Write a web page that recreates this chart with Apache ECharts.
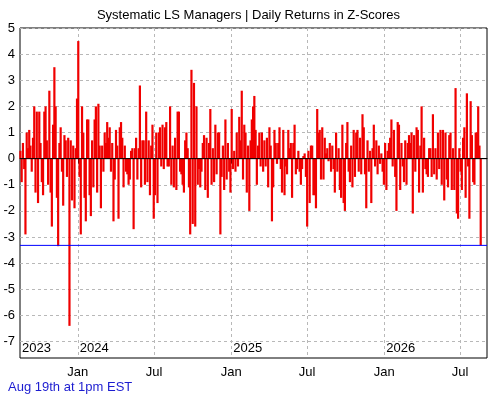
<!DOCTYPE html>
<html>
<head>
<meta charset="utf-8">
<script src="https://cdn.jsdelivr.net/npm/echarts@6.0.0/dist/echarts.min.js"></script>
<style>
  html, body { margin: 0; padding: 0; background: #fff; }
  #chart { width: 497px; height: 400px; }
</style>
</head>
<body>
<div id="chart"></div>
<script>
// one reading every 3 calendar days, starting here
const startDate = '2023-08-17';
const stepDays = 3;

// z-scores (left to right)
const zScores = [
  0.3, -0.9, 0.6, -0.4, -2.9, 1.0, 0.4, 1.1, 0.5, -0.5,
  0.8, 2.0, -1.3, 1.8, -1.7, 1.8, 0.6, -0.9, -1.4, 1.8,
  2.0, 0.7, -1.0, 2.6, -1.3, -2.6, 1.3, 3.5, 2.0, -1.5,
  -3.35, 0.6, 1.2, -0.5, -1.8, 0.9, 0.7, -0.7, 0.8, -6.4,
  0.7, -1.6, 0.5, -1.9, 0.4, 2.3, 4.5, -0.7, -2.9, 2.0,
  1.0, -1.5, -2.4, 1.5, 1.5, -1.4, -2.2, 0.7, -1.1, 1.5,
  2.0, -1.3,
  2.1, 0.5, -1.9, 0.5, -0.5, 1.0, 0.6, 1.4, 0.8, 1.2,
  -0.5, 0.6, -2.4, -0.8, 1.1, 0.5, -2.3, 1.2, 1.4, 0.8,
  -1.1, 0.5, -0.5, -0.6, -1.0, -0.8, 0.3, 0.4, -2.7, 0.4,
  0.8, -0.8, 0.4, 2.8, -1.1, 0.7, 0.7, -1.0, 1.8, -0.9,
  0.7, -1.4, 0.5, 1.3, -2.3, -1.4, 1.0, -1.7, 1.0, 1.2,
  -0.3, 1.3, -0.4, 1.2, 1.4, -0.3, -0.3, 2.0, -1.0, 0.5,
  -1.1, 0.8,
  -1.2, 1.8, 1.8, -0.5, -0.6, -1.0, -1.3, 0.7, 1.0, 0.4,
  -1.1, -2.9, 3.4, -2.5, 2.9, -2.6, 2.0, -1.0, -0.4, -1.1,
  -0.5, 0.6, 0.9, -1.2, 0.8, -1.5, 0.6, 1.9, -1.0, 0.4,
  -0.9, 1.3, -0.6, 1.0, 1.0, -2.9, -0.7, 0.5, -1.2, 1.5,
  -0.8, 0.6, -0.5, -1.3, 1.9, -0.4, 0.3, -0.5, 1.0, -0.3,
  1.6, 0.7, 2.6, -0.8, 1.3, 1.0, -1.3, 0.5, -2.0, 0.7,
  1.5, 2.0,
  2.4, 1.1, -1.0, 0.5, 1.0, -0.3, 1.0, -0.5, 0.7, -0.3,
  0.8, -1.1, 1.2, 0.5, -2.4, -1.1, 1.1, 0.6, -0.2, 0.6,
  1.2, -0.4, -1.3, 1.1, -1.4, -0.3, -0.6, 1.1, 0.4, 0.6,
  -1.5, 0.6, 1.3, -0.6, -0.4, 0.3, -0.5, -1.0, -0.4, 0.1,
  0.2, -0.7, -2.6, 0.3, -1.7, 0.5, 0.5, -1.4, -1.4, -1.9,
  1.9, 1.0, 1.1, -0.8, 1.2, -0.8, 0.8, 0.2, 0.4, -0.1,
  0.6, -0.5,
  0.5, -0.4, -1.3, 1.0, -0.5, 0.4, -1.2, -1.5, 1.3, -1.7,
  -2.0, 0.6, 1.4, -0.5, -0.9, 0.5, -1.1, 1.1, -0.7, 1.0,
  1.1, -0.5, 0.8, -0.6, 1.7, 1.2, -0.6, -1.9, 0.7, -0.5,
  0.3, -1.7, 0.4, 1.3, -0.3, 0.7, -0.6, 0.5, -0.2, 0.2,
  -0.5, -1.0, 0.6, -1.2, 0.3, 0.6, 0.8, 1.5, -0.3, 1.1,
  -0.7, -2.0, 1.4, 1.3, -1.2, 0.6, -0.3, -0.9, 0.7, -1.0,
  0.6, 0.9,
  0.6, 1.0, -2.1, 0.9, -0.5, 1.2, 1.1, -1.3, 0.5, 2.0,
  -1.3, 0.8, -0.4, -0.6, -0.7, 0.4, 0.4, -0.7, 1.7, -0.6,
  0.4, -0.8, 1.0, -0.4, 1.1, -1.0, 1.1, -1.6, 1.0, -0.8,
  -1.1, 0.9, 1.0, -1.2, 0.4, -1.2, 2.7, -2.1, -2.3, 0.4,
  -0.5, -1.2, 0.8, 1.2, -1.5, 2.5, -0.3, -2.3, 2.2, 0.9,
  -0.9, -1.0, 1.0, 1.0, 2.0, 0.5, -3.32
];

const axisStart = '2023-08-16';
const axisEnd = '2026-09-03';
const monthTicks = ['2024-01-01', '2024-07-01', '2025-01-01', '2025-07-01', '2026-01-01', '2026-07-01'];
const yearTicks = ['2023-08-16', '2024-01-01', '2025-01-01', '2026-01-01'];
const yTicks = [-7, -6, -5, -4, -3, -2, -1, 0, 1, 2, 3, 4, 5];
const monthNames = ['Jan', 'Feb', 'Mar', 'Apr', 'May', 'Jun', 'Jul', 'Aug', 'Sep', 'Oct', 'Nov', 'Dec'];

const DAY = 86400000;
const t0 = Date.parse(startDate);
const xMin = Date.parse(axisStart);
const xMax = Date.parse(axisEnd);
const seriesData = zScores.map((v, i) => [t0 + i * stepDays * DAY, v]);
const latest = zScores[zScores.length - 1];
const monthValues = monthTicks.map(d => Date.parse(d));
const yearValues = yearTicks.map(d => Date.parse(d));

const font = 'Liberation Sans, Arial, sans-serif';
const gridDash = { color: '#b8b8b8', type: [3, 3], width: 1 };

const chart = echarts.init(document.getElementById('chart'));
chart.setOption({
  animation: false,
  backgroundColor: '#fff',
  title: {
    text: 'Systematic LS Managers | Daily Returns in Z-Scores',
    left: 'center',
    top: 4,
    textStyle: { fontFamily: font, fontSize: 13, fontWeight: 'normal', color: '#000' }
  },
  graphic: [{
    type: 'text',
    left: 8,
    top: 381,
    style: { text: 'Aug 19th at 1pm EST', fill: '#1c1cd0', font: '13px ' + font }
  }],
  grid: {
    left: 20, right: 10, top: 28, bottom: 42,
    show: true, borderColor: '#000', borderWidth: 1, backgroundColor: 'transparent'
  },
  xAxis: [{
    type: 'value',
    min: xMin,
    max: xMax,
    axisLine: { show: true, lineStyle: { color: '#000' } },
    axisTick: {
      show: true, length: 5, inside: false,
      lineStyle: { color: '#000' },
      customValues: monthValues
    },
    axisLabel: {
      customValues: monthValues,
      formatter: v => monthNames[new Date(v).getUTCMonth()],
      color: '#000', fontFamily: font, fontSize: 13, margin: 8
    },
    splitLine: { show: true, lineStyle: gridDash }
  }, {
    type: 'value',
    position: 'bottom',
    min: xMin,
    max: xMax,
    axisLine: { show: false },
    axisTick: { show: false, customValues: yearValues },
    splitLine: { show: false },
    axisLabel: {
      inside: true,
      showMinLabel: true,
      customValues: yearValues,
      formatter: v => String(new Date(v).getUTCFullYear()),
      align: 'left',
      padding: [0, 0, 0, 2],
      margin: 3,
      color: '#000', fontFamily: font, fontSize: 13
    }
  }],
  yAxis: {
    type: 'value',
    min: -7.63,
    max: 5,
    axisLine: { show: false },
    axisTick: { show: false, customValues: yTicks },
    axisLabel: {
      customValues: yTicks,
      color: '#000', fontFamily: font, fontSize: 13, margin: 5
    },
    splitLine: { show: true, lineStyle: gridDash }
  },
  series: [{
    name: 'Z-Score',
    type: 'bar',
    data: seriesData,
    barWidth: 2.2,
    barMinWidth: 2.2,
    itemStyle: { color: '#f00000' },
    z: 3
  }, {
    name: 'Zero',
    type: 'line',
    data: [[xMin, 0], [xMax, 0]],
    showSymbol: false,
    lineStyle: { color: '#000', width: 1 },
    z: 4
  }, {
    name: 'Latest',
    type: 'line',
    data: [[xMin, latest], [xMax, latest]],
    showSymbol: false,
    lineStyle: { color: '#0000ff', width: 1 },
    z: 4
  }]
});
</script>
</body>
</html>
